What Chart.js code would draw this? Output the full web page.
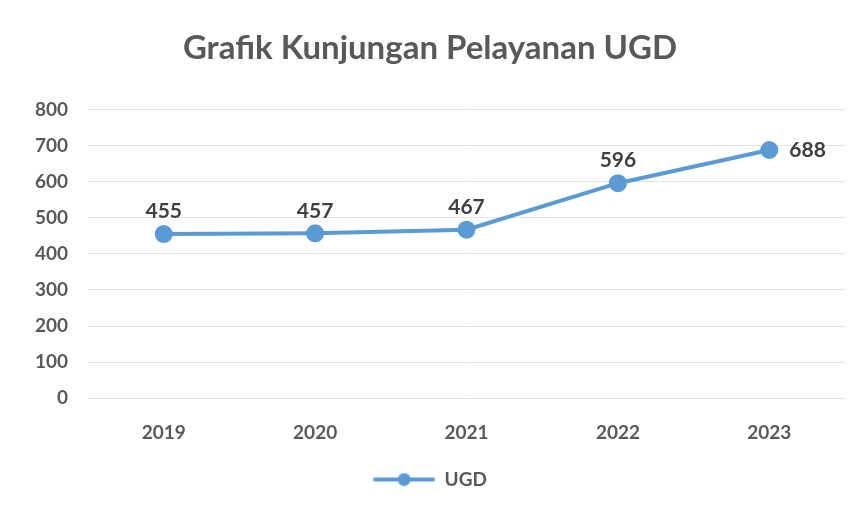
<!DOCTYPE html>
<html>
<head>
<meta charset="utf-8">
<script src="https://cdn.jsdelivr.net/npm/chart.js@4.4.0/dist/chart.umd.min.js"></script>
<style>
  html, body { margin: 0; padding: 0; background: #ffffff; }
  #wrap { width: 861px; height: 519px; }
</style>
</head>
<body>
<div id="wrap"><canvas id="chart" width="861" height="519"></canvas></div>
<script>
// chart data
const years = ["2019", "2020", "2021", "2022", "2023"];
const ugdVisits = [455, 457, 467, 596, 688];
const yTicks = [0, 100, 200, 300, 400, 500, 600, 700, 800];

const lineColor = "#5b9bd5";
const textColor = "#595959";
const fontFamily = "Lato, 'Liberation Sans', sans-serif";

// legend marker: short line with a dot, like the office chart legend
function makeLegendMarker() {
  const c = document.createElement("canvas");
  c.width = 62;
  c.height = 14;
  const g = c.getContext("2d");
  g.strokeStyle = lineColor;
  g.lineWidth = 4;
  g.lineCap = "round";
  g.beginPath();
  g.moveTo(2, 7);
  g.lineTo(60, 7);
  g.stroke();
  g.fillStyle = lineColor;
  g.beginPath();
  g.arc(31, 7, 6.5, 0, Math.PI * 2);
  g.fill();
  return c;
}

// value labels above each point (last one to the right)
const valueLabels = {
  id: "valueLabels",
  afterDatasetsDraw(chart) {
    const ctx = chart.ctx;
    const meta = chart.getDatasetMeta(0);
    const values = chart.data.datasets[0].data;
    ctx.save();
    ctx.font = "bold 21px " + fontFamily;
    ctx.fillStyle = "#404040";
    meta.data.forEach((pt, i) => {
      const last = i === values.length - 1;
      if (last) {
        ctx.textAlign = "left";
        ctx.textBaseline = "middle";
        ctx.fillText(String(values[i]), pt.x + 20, pt.y);
      } else {
        ctx.textAlign = "center";
        ctx.textBaseline = "bottom";
        ctx.fillText(String(values[i]), pt.x, pt.y - 12);
      }
    });
    ctx.restore();
  }
};

const ctx = document.getElementById("chart").getContext("2d");
new Chart(ctx, {
  type: "line",
  data: {
    labels: years,
    datasets: [{
      label: "UGD",
      data: ugdVisits,
      borderColor: lineColor,
      backgroundColor: lineColor,
      borderWidth: 4,
      pointRadius: 7,
      pointHoverRadius: 7,
      pointBackgroundColor: lineColor,
      pointBorderColor: lineColor,
      tension: 0,
      fill: false
    }]
  },
  options: {
    responsive: false,
    animation: false,
    layout: { padding: { left: 15, right: 16, top: 0, bottom: 20 } },
    plugins: {
      title: {
        display: true,
        text: "Grafik Kunjungan Pelayanan UGD",
        color: textColor,
        font: { family: fontFamily, size: 33, weight: "bold" },
        padding: { top: 29, bottom: 41 }
      },
      legend: {
        position: "bottom",
        labels: {
          usePointStyle: true,
          pointStyle: makeLegendMarker(),
          pointStyleWidth: 62,
          color: textColor,
          font: { family: fontFamily, size: 19, weight: "bold" },
          padding: 11
        }
      },
      tooltip: { enabled: false }
    },
    scales: {
      x: {
        offset: true,
        grid: { display: false },
        border: { display: false },
        ticks: {
          color: textColor,
          font: { family: fontFamily, size: 19, weight: "bold" },
          padding: 15
        }
      },
      y: {
        min: yTicks[0],
        max: yTicks[yTicks.length - 1],
        afterBuildTicks: (axis) => {
          axis.ticks = yTicks.map((v) => ({ value: v }));
        },
        grid: { color: "#e4e4e4", lineWidth: 1, drawTicks: false },
        border: { display: false },
        ticks: {
          color: textColor,
          font: { family: fontFamily, size: 19, weight: "bold" },
          padding: 20
        }
      }
    }
  },
  plugins: [valueLabels]
});
</script>
</body>
</html>
